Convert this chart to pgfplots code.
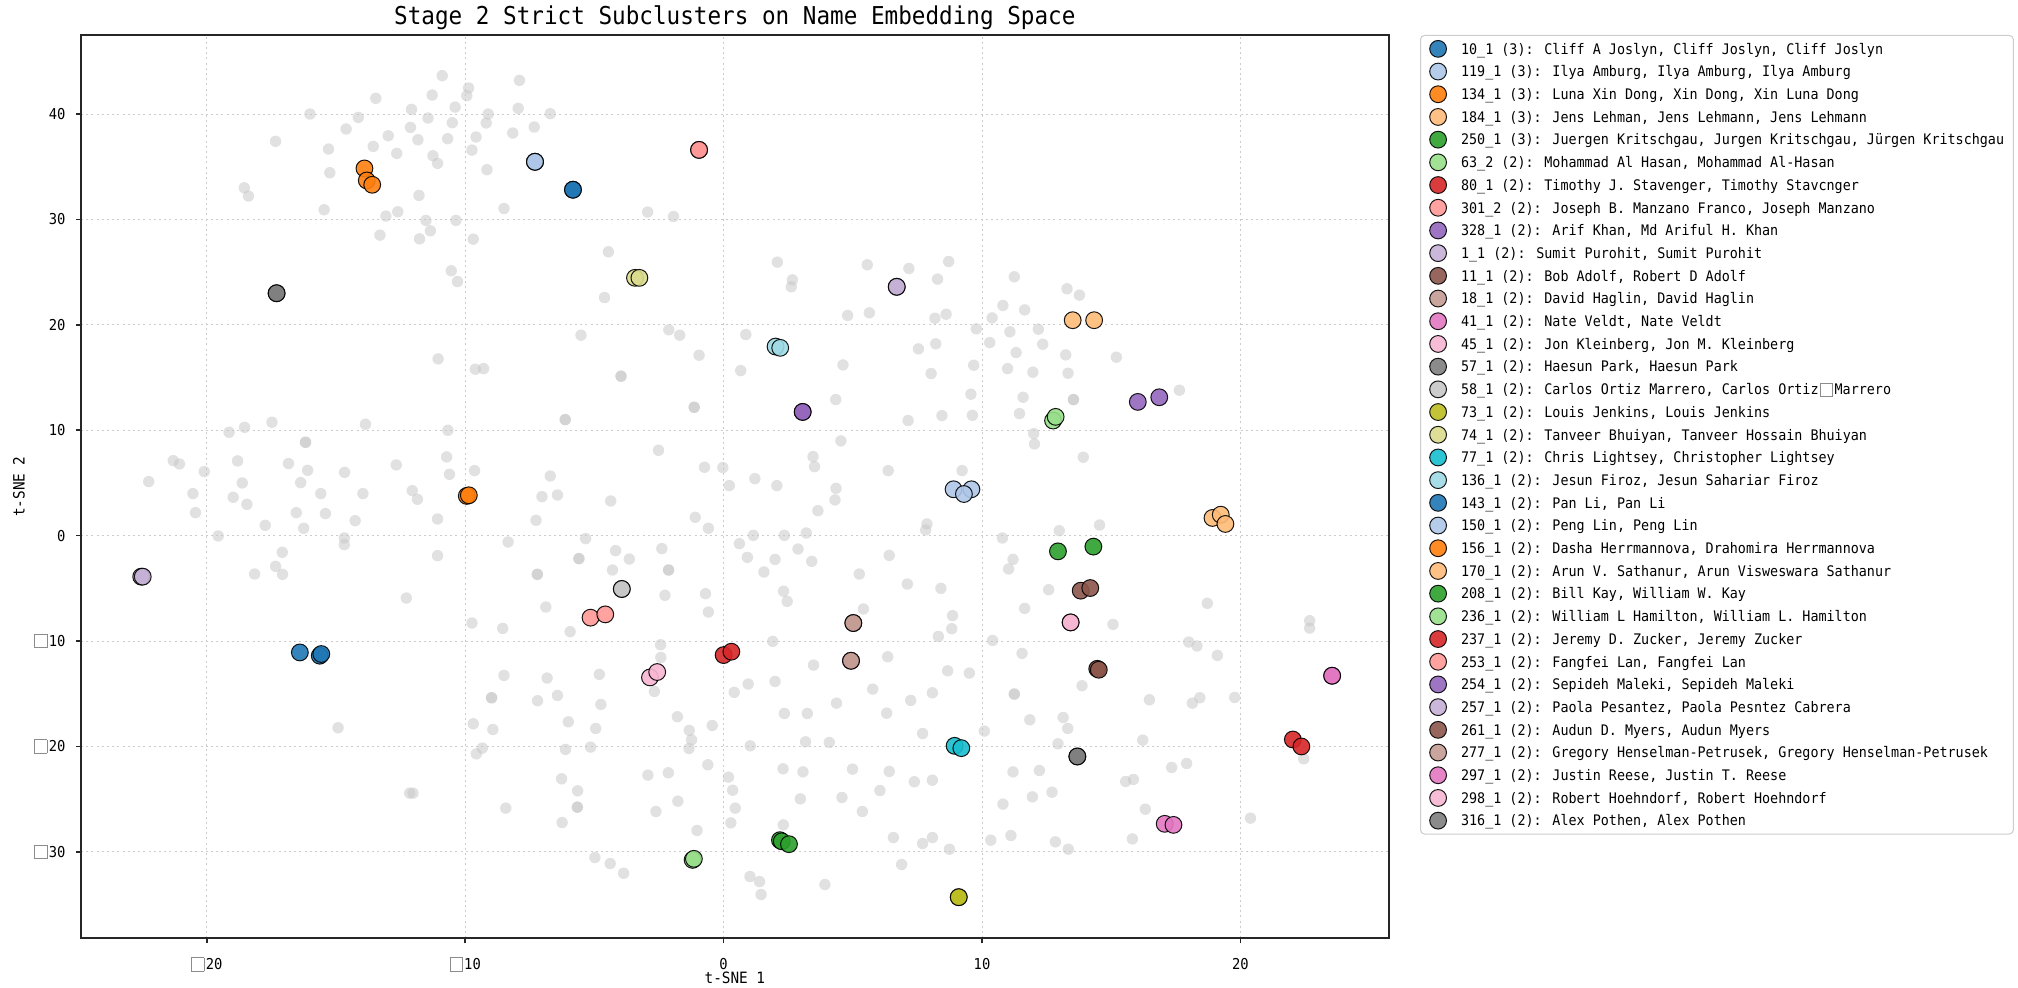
\documentclass[border=0pt]{standalone}
\usepackage{pgfplots}
\pgfplotsset{compat=1.18}
\usepackage{fontspec}
\setmainfont{DejaVu Sans Mono}[FakeStretch=0.92]
\definecolor{c1}{HTML}{1F77B4}\definecolor{c2}{HTML}{AEC7E8}
\definecolor{c3}{HTML}{FF7F0E}\definecolor{c4}{HTML}{FFBB78}
\definecolor{c5}{HTML}{2CA02C}\definecolor{c6}{HTML}{98DF8A}
\definecolor{c7}{HTML}{D62728}\definecolor{c8}{HTML}{FF9896}
\definecolor{c9}{HTML}{9467BD}\definecolor{c10}{HTML}{C5B0D5}
\definecolor{c11}{HTML}{8C564B}\definecolor{c12}{HTML}{C49C94}
\definecolor{c13}{HTML}{E377C2}\definecolor{c14}{HTML}{F7B6D2}
\definecolor{c15}{HTML}{7F7F7F}\definecolor{c16}{HTML}{C7C7C7}
\definecolor{c17}{HTML}{BCBD22}\definecolor{c18}{HTML}{DBDB8D}
\definecolor{c19}{HTML}{17BECF}\definecolor{c20}{HTML}{9EDAE5}
\definecolor{bg}{HTML}{C8C8C8}
\newcommand\tofu[2]{\raisebox{-0.6pt}{\textcolor{black!45}{\setlength{\fboxsep}{0pt}\setlength{\fboxrule}{0.4pt}\fbox{\rule{0pt}{#2}\rule{#1}{0pt}}}}}
\newcommand\mn{\tofu{5.8pt}{6.4pt}\kern0.7pt}
\pgfplotsset{cl/.style={only marks, mark=*, mark size=4.2pt, mark options={fill=#1, draw=black, line width=0.5pt, opacity=0.9}}}
\begin{document}
\begin{tikzpicture}
\useasboundingbox (0,0) rectangle (1009pt,494pt);
\begin{axis}[
  at={(40.5pt,24.85pt)}, anchor=south west,
  scale only axis, width=653.85pt, height=451.65pt,
  xmin=-24.87, xmax=25.74, ymin=-38.2, ymax=47.5,
  xtick={-20,-10,0,10,20}, xticklabels={\mn20,\mn10,0,10,20},
  ytick={-30,-20,-10,0,10,20,30,40}, yticklabels={\mn30,\mn20,\mn10,0,10,20,30,40},
  tick pos=left, tick align=outside, major tick length=2.5pt,
  minor tick num=0,
  axis line style={black!85, line width=0.8pt},
  tick style={black!85, line width=0.8pt},
  grid=major, major grid style={black!20, line width=0.5pt, dash pattern=on 1pt off 1.6pt},
  tick label style={font=\fontsize{7.5}{9}\selectfont},
  xticklabel style={anchor=base, inner sep=0pt, yshift=-13.3pt},
  yticklabel style={anchor=east, inner sep=0pt, xshift=-5.1pt},
  every axis title/.style={at={(axis description cs:0.5,1)}, anchor=base, yshift=5.3pt, font=\fontsize{12.3}{14}\selectfont},
  every axis x label/.style={at={(axis description cs:0.5,0)}, anchor=base, yshift=-22.65pt, font=\fontsize{7.8}{9}\selectfont},
  every axis y label/.style={at={(axis description cs:0,0.5)}, xshift=-28.2pt, rotate=90, anchor=base, font=\fontsize{7.8}{9}\selectfont},
  title={Stage 2 Strict Subclusters on Name Embedding Space},
  xlabel={t-SNE 1}, ylabel={t-SNE 2},
  legend image code/.code={\draw[#1,only marks] plot coordinates {(0pt,0pt)};},
  legend cell align=left,
  legend style={at={(1,1)}, anchor=north west, xshift=15.65pt, draw=black!20, line width=0.5pt, rounded corners=2pt, fill=white, inner xsep=4.6pt, inner ysep=1.0pt, row sep=0pt, font=\fontsize{7.28}{8}\selectfont, nodes={inner sep=0pt, text height=8.33pt, text depth=3.02pt}, /tikz/every odd column/.append style={column sep=7.3pt}},
]
\addplot[only marks, mark=*, mark size=2.85pt, color=bg, mark options={draw opacity=0, fill opacity=0.55}, forget plot] coordinates {
(-10.89,43.64)(-9.87,42.47)(-9.94,41.74)(-11.28,41.80)(-13.46,41.49)(-7.90,43.20)(-12.08,40.44)(-10.39,40.66)
(-16.01,40.00)(-14.14,39.68)(-11.44,39.62)(-9.11,40.00)(-7.95,40.54)(-14.61,38.58)(-12.12,38.73)(-10.50,39.18)
(-9.19,39.15)(-12.98,37.94)(-11.83,37.56)(-10.68,37.66)(-9.58,37.82)(-8.16,38.20)(-17.34,37.41)(-15.29,36.68)
(-13.56,36.93)(-12.65,36.27)(-11.25,36.04)(-11.07,35.32)(-9.74,36.58)(-15.24,34.43)(-9.16,34.72)(-18.55,33.00)
(-18.39,32.22)(-11.79,32.28)(-15.46,30.92)(-13.07,30.32)(-12.61,30.73)(-8.50,31.04)(-11.52,29.91)(-10.36,29.91)
(-11.35,28.92)(-13.30,28.51)(-11.77,28.16)(-9.69,28.13)(-10.54,25.13)(-10.30,24.11)(-11.05,16.77)(-9.61,15.79)
(-9.29,15.85)(-19.14,9.81)(-18.54,10.28)(-17.48,10.76)(-13.86,10.57)(-10.67,10.00)(-16.18,8.86)(-16.18,8.86)
(-21.30,7.12)(-21.06,6.80)(-20.10,6.08)(-18.81,7.09)(-16.84,6.84)(-16.10,6.20)(-14.67,6.01)(-12.67,6.71)
(-10.72,7.47)(-10.61,5.82)(-9.64,6.17)(-22.25,5.13)(-18.63,5.00)(-16.37,5.03)
(-6.71,40.03)(-7.33,38.77)(-2.94,30.70)(-1.94,30.28)(-4.46,26.93)(-4.61,22.59)(2.08,25.95)(2.66,24.27)
(2.62,23.61)(5.56,25.70)(7.17,25.35)(8.71,26.01)(8.28,24.34)(4.80,20.89)(5.64,21.14)(8.18,20.63)
(8.61,21.01)(-5.52,19.02)(-2.12,19.53)(-1.70,19.02)(-0.95,17.12)(-3.97,15.13)(-3.97,15.13)(0.86,19.08)
(0.66,15.66)(4.62,16.20)(7.54,17.72)(8.21,18.20)(8.03,15.38)(4.34,12.91)(7.14,10.92)(8.45,11.39)
(-6.13,11.01)(-6.13,11.01)(-1.14,12.18)(-1.14,12.18)(4.54,8.99)(3.46,7.50)(3.52,6.55)(6.37,6.17)
(-2.52,8.10)(-6.71,5.66)(-0.74,6.49)(-0.03,6.46)(1.21,5.41)(2.06,4.75)(0.22,4.75)(4.35,4.49)
(11.25,24.56)(13.29,23.42)(13.77,22.82)(10.81,21.84)(11.65,21.42)(10.39,20.66)(9.78,19.62)(11.08,19.34)
(12.18,19.59)(10.30,18.32)(12.35,18.16)(11.32,17.37)(13.24,17.15)(15.20,16.93)(9.68,16.17)(10.99,15.85)
(11.97,15.51)(13.33,15.41)(9.57,13.42)(11.59,13.13)(13.54,12.91)(13.54,12.91)(9.63,11.42)(11.45,11.58)
(17.64,13.80)(12.00,9.68)(12.03,8.70)(13.92,7.44)(9.23,6.17)
(-20.54,3.99)(-18.98,3.64)(-18.45,2.97)(-20.44,2.18)(-15.59,3.99)(-13.96,3.99)(-12.05,4.27)(-11.85,3.45)
(-16.54,2.18)(-15.41,2.09)(-14.26,1.42)(-17.74,0.98)(-16.25,0.70)(-11.07,1.58)(-19.56,-0.03)(-14.68,-0.22)
(-14.68,-0.85)(-8.34,-0.60)(-17.08,-1.58)(-11.07,-1.90)(-17.34,-2.91)(-18.15,-3.64)(-17.07,-3.67)(-12.28,-5.92)
(-9.74,-8.29)(-8.55,-8.80)(-8.50,-13.26)(-8.98,-15.38)(-8.98,-15.38)(-9.69,-17.85)(-8.93,-18.39)(-14.92,-18.23)
(-9.34,-20.16)(-9.57,-20.70)(-12.15,-24.43)(-12.02,-24.43)(-8.43,-25.85)
(-7.03,3.70)(-6.43,3.86)(-4.37,3.29)(-7.26,1.46)(-1.10,1.74)(-0.59,0.70)(4.31,3.39)(3.65,2.37)
(7.87,1.11)(7.82,0.54)(1.15,0.03)(2.35,0.03)(3.20,0.25)(0.61,-0.76)(0.92,-2.06)(1.99,-2.25)
(2.88,-1.27)(3.41,-2.44)(1.56,-3.45)(6.41,-1.87)(5.25,-3.64)(7.11,-4.59)(8.41,-5.00)(8.86,-7.59)
(8.83,-8.83)(8.31,-9.56)(5.41,-6.96)(-5.34,-0.28)(-4.18,-1.42)(-3.65,-2.22)(-2.39,-1.23)(-5.60,-2.18)
(-5.60,-2.18)(-7.21,-3.67)(-7.21,-3.67)(-4.30,-3.26)(-2.13,-3.26)(-2.13,-3.26)(-2.27,-5.66)(-0.70,-5.51)
(-0.59,-7.25)(-6.88,-6.77)(-5.94,-9.11)(2.32,-5.28)(2.46,-6.23)(1.90,-10.03)(-2.44,-10.35)(-2.43,-11.55)
(3.48,-12.28)(6.35,-11.49)(5.77,-14.56)(7.24,-15.63)(8.08,-14.91)(8.67,-12.82)(0.95,-14.08)(1.99,-13.83)
(0.41,-14.87)(4.37,-15.89)(2.35,-16.87)(3.24,-16.87)(6.31,-16.84)(7.70,-18.77)(3.17,-19.56)(4.09,-19.62)
(1.03,-19.94)(-6.83,-13.51)(-6.43,-15.16)(-7.20,-15.66)(-4.81,-13.16)(-4.75,-16.01)(-2.68,-14.78)(-6.01,-17.66)
(-4.95,-18.29)(-5.15,-20.06)(-6.12,-20.28)(-1.79,-17.18)(-1.33,-18.48)(-1.24,-19.37)(-1.34,-20.19)(-0.44,-18.01)
(-0.61,-21.74)(-2.93,-22.72)(-2.14,-22.50)(-6.27,-23.07)(-5.65,-24.21)(-5.66,-25.76)(-5.66,-25.76)(-2.62,-26.17)
(-1.77,-25.19)(-6.25,-27.22)(-1.03,-27.97)(-4.98,-30.54)(-4.39,-31.11)(-3.87,-32.03)(0.19,-22.91)(0.35,-24.15)
(0.45,-25.85)(0.28,-27.25)(2.30,-22.12)(3.07,-22.41)(4.99,-22.15)(6.41,-22.37)(7.38,-23.35)(8.08,-23.20)
(2.97,-24.97)(4.58,-24.84)(6.05,-24.18)(5.37,-26.17)(2.31,-27.44)(6.57,-28.64)(7.70,-29.21)(8.08,-28.64)
(8.74,-29.75)(6.89,-31.20)(1.02,-32.34)(1.39,-32.82)(1.45,-34.05)(3.92,-33.10)
(10.79,-0.22)(12.99,0.47)(14.55,1.01)(11.20,-2.25)(11.03,-3.16)(12.58,-5.13)(11.65,-6.90)(15.07,-8.42)
(18.72,-6.42)(10.41,-9.94)(11.55,-11.17)(9.51,-13.04)(13.87,-14.24)(11.25,-15.03)(11.25,-15.03)(11.85,-17.47)
(13.14,-17.25)(13.32,-18.29)(10.09,-18.54)(12.94,-19.75)(16.22,-19.40)(18.00,-10.09)(18.32,-10.47)(19.11,-11.36)
(16.48,-15.57)(18.14,-15.89)(18.43,-15.38)(19.78,-15.35)(22.68,-8.07)(22.68,-8.77)(11.20,-22.41)(12.22,-22.28)
(17.34,-21.99)(17.92,-21.61)(15.56,-23.32)(15.86,-23.13)(10.81,-25.47)(11.95,-24.78)(12.71,-24.34)(16.32,-25.95)
(10.34,-28.89)(11.12,-28.45)(12.84,-29.05)(13.34,-29.75)(15.82,-28.77)(20.39,-26.80)(22.45,-21.17)
};
\addplot[cl=c1] coordinates {(-16.40,-11.08)(-15.63,-11.39)(-15.57,-11.23)};
\addlegendentry{10\_1 (3): Cliff A Joslyn, Cliff Joslyn, Cliff Joslyn}
\addplot[cl=c2] coordinates {(-7.30,35.47)(-7.30,35.47)(-7.30,35.47)};
\addlegendentry{119\_1 (3): Ilya Amburg, Ilya Amburg, Ilya Amburg}
\addplot[cl=c3] coordinates {(-13.90,34.84)(-13.81,33.70)(-13.60,33.29)};
\addlegendentry{134\_1 (3): Luna Xin Dong, Xin Dong, Xin Luna Dong}
\addplot[cl=c4] coordinates {(18.92,1.68)(19.24,1.99)(19.42,1.11)};
\addlegendentry{184\_1 (3): Jens Lehman, Jens Lehmann, Jens Lehmann}
\addplot[cl=c5] coordinates {(2.18,-28.89)(2.25,-29.00)(2.53,-29.27)};
\addlegendentry{250\_1 (3): Juergen Kritschgau, Jurgen Kritschgau, Jürgen Kritschgau}
\addplot[cl=c6] coordinates {(12.75,10.92)(12.85,11.27)};
\addlegendentry{63\_2 (2): Mohammad Al Hasan, Mohammad Al-Hasan}
\addplot[cl=c7] coordinates {(0.00,-11.33)(0.30,-11.01)};
\addlegendentry{80\_1 (2): Timothy J. Stavenger, Timothy Stavcnger}
\addplot[cl=c8] coordinates {(-5.15,-7.78)(-4.58,-7.47)};
\addlegendentry{301\_2 (2): Joseph B. Manzano Franco, Joseph Manzano}
\addplot[cl=c9] coordinates {(16.03,12.69)(16.86,13.13)};
\addlegendentry{328\_1 (2): Arif Khan, Md Ariful H. Khan}
\addplot[cl=c10] coordinates {(6.70,23.61)(6.70,23.61)};
\addlegendentry{1\_1 (2): Sumit Purohit, Sumit Purohit}
\addplot[cl=c11] coordinates {(13.82,-5.22)(14.19,-4.97)};
\addlegendentry{11\_1 (2): Bob Adolf, Robert D Adolf}
\addplot[cl=c12] coordinates {(5.02,-8.29)(5.02,-8.29)};
\addlegendentry{18\_1 (2): David Haglin, David Haglin}
\addplot[cl=c13] coordinates {(23.55,-13.29)(23.55,-13.29)};
\addlegendentry{41\_1 (2): Nate Veldt, Nate Veldt}
\addplot[cl=c14] coordinates {(-2.85,-13.45)(-2.57,-12.94)};
\addlegendentry{45\_1 (2): Jon Kleinberg, Jon M. Kleinberg}
\addplot[cl=c15] coordinates {(-17.30,23.00)(-17.30,23.00)};
\addlegendentry{57\_1 (2): Haesun Park, Haesun Park}
\addplot[cl=c16] coordinates {(-3.94,-5.06)(-3.94,-5.06)};
\addlegendentry{58\_1 (2): Carlos Ortiz Marrero, Carlos Ortiz\kern0.9pt\tofu{5.4pt}{5.8pt}\kern0.9pt Marrero}
\addplot[cl=c17] coordinates {(9.10,-34.30)(9.10,-34.30)};
\addlegendentry{73\_1 (2): Louis Jenkins, Louis Jenkins}
\addplot[cl=c18] coordinates {(-3.43,24.46)(-3.26,24.46)};
\addlegendentry{74\_1 (2): Tanveer Bhuiyan, Tanveer Hossain Bhuiyan}
\addplot[cl=c19] coordinates {(8.94,-19.94)(9.20,-20.16)};
\addlegendentry{77\_1 (2): Chris Lightsey, Christopher Lightsey}
\addplot[cl=c20] coordinates {(2.01,17.94)(2.19,17.82)};
\addlegendentry{136\_1 (2): Jesun Firoz, Jesun Sahariar Firoz}
\addplot[cl=c1] coordinates {(-5.83,32.82)(-5.83,32.82)};
\addlegendentry{143\_1 (2): Pan Li, Pan Li}
\addplot[cl=c2] coordinates {(8.90,4.40)(9.59,4.40)(9.30,3.95)};
\addlegendentry{150\_1 (2): Peng Lin, Peng Lin}
\addplot[cl=c3] coordinates {(-9.94,3.77)(-9.86,3.83)};
\addlegendentry{156\_1 (2): Dasha Herrmannova, Drahomira Herrmannova}
\addplot[cl=c4] coordinates {(13.51,20.44)(14.34,20.44)};
\addlegendentry{170\_1 (2): Arun V. Sathanur, Arun Visweswara Sathanur}
\addplot[cl=c5] coordinates {(12.94,-1.49)(14.31,-1.04)};
\addlegendentry{208\_1 (2): Bill Kay, William W. Kay}
\addplot[cl=c6] coordinates {(-1.20,-30.76)(-1.15,-30.66)};
\addlegendentry{236\_1 (2): William L Hamilton, William L. Hamilton}
\addplot[cl=c7] coordinates {(22.03,-19.34)(22.36,-20.00)};
\addlegendentry{237\_1 (2): Jeremy D. Zucker, Jeremy Zucker}
\addplot[cl=c8] coordinates {(-0.95,36.60)(-0.95,36.60)};
\addlegendentry{253\_1 (2): Fangfei Lan, Fangfei Lan}
\addplot[cl=c9] coordinates {(3.06,11.74)(3.06,11.74)};
\addlegendentry{254\_1 (2): Sepideh Maleki, Sepideh Maleki}
\addplot[cl=c10] coordinates {(-22.54,-3.89)(-22.48,-3.89)};
\addlegendentry{257\_1 (2): Paola Pesantez, Paola Pesntez Cabrera}
\addplot[cl=c11] coordinates {(14.46,-12.63)(14.52,-12.72)};
\addlegendentry{261\_1 (2): Audun D. Myers, Audun Myers}
\addplot[cl=c12] coordinates {(4.93,-11.87)(4.93,-11.87)};
\addlegendentry{277\_1 (2): Gregory Henselman-Petrusek, Gregory Henselman-Petrusek}
\addplot[cl=c13] coordinates {(17.07,-27.34)(17.41,-27.44)};
\addlegendentry{297\_1 (2): Justin Reese, Justin T. Reese}
\addplot[cl=c14] coordinates {(13.43,-8.23)(13.43,-8.23)};
\addlegendentry{298\_1 (2): Robert Hoehndorf, Robert Hoehndorf}
\addplot[cl=c15] coordinates {(13.69,-20.95)(13.69,-20.95)};
\addlegendentry{316\_1 (2): Alex Pothen, Alex Pothen}
\end{axis}
\end{tikzpicture}
\end{document}
